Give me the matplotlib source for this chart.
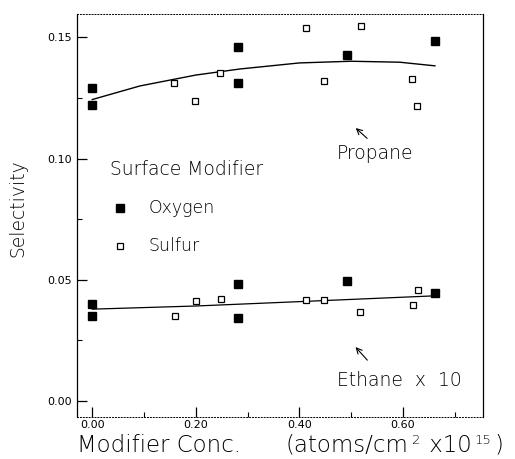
import numpy as np
import matplotlib
matplotlib.use("Agg")
import matplotlib.pyplot as plt
from matplotlib.ticker import MultipleLocator

# propane selectivity
prop_oxy_x = [0.00, 0.00, 0.282, 0.282, 0.492, 0.662]
prop_oxy_y = [0.1292, 0.1222, 0.1459, 0.1312, 0.1429, 0.1486]
prop_sul_x = [0.158, 0.198, 0.247, 0.412, 0.448, 0.519, 0.617, 0.628]
prop_sul_y = [0.1312, 0.1240, 0.1354, 0.1539, 0.1319, 0.1548, 0.1330, 0.1219]
prop_fit_x = [0.00, 0.092, 0.20, 0.285, 0.40, 0.50, 0.594, 0.662]
prop_fit_y = [0.1244, 0.1300, 0.1345, 0.1370, 0.1395, 0.1402, 0.1398, 0.1383]

# ethane selectivity (x 10)
eth_oxy_x = [0.00, 0.00, 0.282, 0.282, 0.492, 0.662]
eth_oxy_y = [0.0400, 0.0352, 0.0482, 0.0341, 0.0494, 0.0444]
eth_sul_x = [0.160, 0.200, 0.249, 0.412, 0.448, 0.517, 0.619, 0.630]
eth_sul_y = [0.0352, 0.0413, 0.0421, 0.0417, 0.0417, 0.0366, 0.0397, 0.0460]
eth_fit_x = [0.00, 0.20, 0.40, 0.662]
eth_fit_y = [0.0379, 0.0392, 0.0410, 0.0434]

xticks = [0.0, 0.2, 0.4, 0.6]
yticks = [0.00, 0.05, 0.10, 0.15]

plt.rcParams['font.family'] = ['DejaVu Sans']

fig = plt.figure(figsize=(5.15, 4.59), dpi=100)
ax = fig.add_axes([0.149, 0.091, 0.788, 0.878])

ax.plot(prop_fit_x, prop_fit_y, color='black', lw=1.0)
ax.plot(eth_fit_x, eth_fit_y, color='black', lw=0.9)

for xs, ys in [(prop_oxy_x, prop_oxy_y), (eth_oxy_x, eth_oxy_y)]:
    ax.plot(xs, ys, 's', color='black', ms=5.8, mec='black', ls='none')
for xs, ys in [(prop_sul_x, prop_sul_y), (eth_sul_x, eth_sul_y)]:
    ax.plot(xs, ys, 's', mfc='white', mec='black', ms=4.6, mew=0.9, ls='none')

ax.set_xlim(-0.030, 0.754)
ax.set_ylim(-0.0067, 0.1596)

ax.set_xticks(xticks)
ax.set_xticklabels(['%.2f' % v for v in xticks])
ax.set_yticks(yticks)
ax.set_yticklabels(['%.2f' % v for v in yticks])
ax.xaxis.set_minor_locator(MultipleLocator(0.1))
ax.yaxis.set_minor_locator(MultipleLocator(0.025))
ax.tick_params(which='major', direction='in', length=7, width=0.9, labelsize=8,
               top=False, right=False)
ax.tick_params(which='minor', direction='in', length=3.5, width=0.8,
               top=False, right=False)
ax.tick_params(axis='x', pad=2)

for side in ['top', 'bottom']:
    ax.spines[side].set_linestyle((0, (1, 2)))
    ax.spines[side].set_linewidth(0.7)
for side in ['left', 'right']:
    ax.spines[side].set_linewidth(0.9)

fig.text(18 / 515, 1 - 208 / 459, 'Selectivity', rotation=90, fontsize=13.5,
         ha='center', va='center', fontweight='light')
fig.text(77 / 515, 1 - 452 / 459, 'Modifier Conc.', fontsize=16.5,
         ha='left', va='baseline', fontweight='light')

# x-label units, built piece by piece so the superscripts stay small
renderer = fig.canvas.get_renderer()
pieces = [('(atoms/cm', 16.5, 0), ('2', 9.5, 8), (' x10', 16.5, 0),
          ('15', 9.5, 8), (')', 16.5, 0)]
xpos = 285
base = 452
for txt, size, rise in pieces:
    t = fig.text(xpos / 515, 1 - (base - rise) / 459, txt, fontsize=size,
                 ha='left', va='baseline', fontweight='light')
    bb = t.get_window_extent(renderer=renderer)
    xpos = bb.x1 + 3

# legend drawn by hand
ax.text(0.034, 0.0956, 'Surface Modifier', fontsize=13.5, va='center', fontweight='light')
ax.plot([0.0535], [0.0796], 's', color='black', ms=5.8)
ax.text(0.108, 0.0796, 'Oxygen', fontsize=12.5, va='center', fontweight='light')
ax.plot([0.0535], [0.0641], 's', mfc='white', mec='black', ms=4.6, mew=0.9)
ax.text(0.108, 0.0641, 'Sulfur', fontsize=12.5, va='center', fontweight='light')

ax.text(0.473, 0.1020, 'Propane', fontsize=13.5, va='center', fontweight='light')
ax.annotate('', xy=(0.505, 0.1134), xytext=(0.535, 0.1076),
            arrowprops=dict(arrowstyle='->', lw=0.8, color='black'))
ax.text(0.473, 0.0085, 'Ethane  x  10', fontsize=13.5, va='center', fontweight='light')
ax.annotate('', xy=(0.505, 0.0231), xytext=(0.535, 0.0160),
            arrowprops=dict(arrowstyle='->', lw=0.8, color='black'))

fig.savefig('out.png', dpi=100)
